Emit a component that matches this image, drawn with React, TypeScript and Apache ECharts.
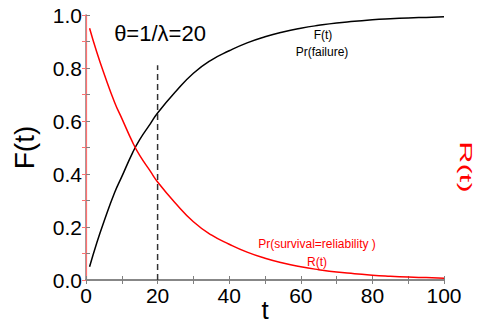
import React, { useEffect, useRef } from "react";
import * as echarts from "echarts";

const tValues = [1, 3, 5, 8, 10, 13, 15, 18, 20, 25, 30, 35, 40, 45, 50, 55, 60, 65, 70, 75, 80, 85, 90, 95, 100];
const failureValues = [0.05, 0.14, 0.22, 0.33, 0.39, 0.48, 0.53, 0.59, 0.63, 0.71, 0.78, 0.83, 0.865, 0.895, 0.918, 0.936, 0.95, 0.961, 0.97, 0.976, 0.982, 0.986, 0.989, 0.991, 0.993];
const reliabilityValues = [0.95, 0.86, 0.78, 0.67, 0.61, 0.52, 0.47, 0.41, 0.37, 0.29, 0.22, 0.17, 0.135, 0.105, 0.082, 0.064, 0.05, 0.039, 0.03, 0.024, 0.018, 0.014, 0.011, 0.009, 0.007];
const markerT = [20, 20];
const markerY = [0, 0.81];
const xTicks = { min: 0, max: 100, step: 20 };
const yTicks = { min: 0, max: 1, step: 0.2 };

const FONT = "'Liberation Sans', Arial, sans-serif";

export default function App() {
  const ref = useRef<HTMLDivElement>(null);
  useEffect(() => {
    if (!ref.current) return;
    const chart = echarts.init(ref.current, undefined, { renderer: "svg" });
    const gray = "#808080";
    const red = "#ff0000";
    const lightRed = "#ff7070";
    const xBase = {
      type: "value",
      min: xTicks.min,
      max: xTicks.max,
      interval: xTicks.step,
      splitLine: { show: false },
      axisLine: { show: true, lineStyle: { color: gray, width: 1.5 } },
      axisTick: { show: true, inside: true, length: 4, lineStyle: { color: gray, width: 1 } },
      minorTick: { show: true, splitNumber: 2, length: 4, lineStyle: { color: gray, width: 1 } },
      minorSplitLine: { show: false },
    };
    const option: any = {
      animation: false,
      grid: { left: 86, right: 41, top: 15, bottom: 44, containLabel: false, outerBoundsMode: "none" },
      xAxis: [
        {
          ...xBase,
          position: "bottom",
          name: "t",
          nameLocation: "middle",
          nameGap: 20,
          nameMoveOverlap: false,
          nameTextStyle: { fontSize: 26, color: "#000", fontFamily: FONT, lineHeight: 20 },
          axisLabel: { show: true, fontSize: 21, color: "#000", fontFamily: FONT, margin: 5 },
        },
        {
          ...xBase,
          position: "top",
          axisLabel: { show: false },
        },
      ],
      yAxis: [
        {
          type: "value",
          position: "left",
          min: yTicks.min,
          max: yTicks.max,
          interval: yTicks.step,
          name: "F(t)",
          nameLocation: "middle",
          nameGap: 48,
          nameMoveOverlap: false,
          nameTextStyle: { fontSize: 28, color: "#000", fontFamily: FONT },
          splitLine: { show: false },
          axisLine: { show: true, lineStyle: { color: gray, width: 1.5 } },
          axisTick: { show: true, inside: true, length: 4, lineStyle: { color: gray, width: 1 } },
          minorTick: { show: true, splitNumber: 2, length: 4, lineStyle: { color: gray, width: 1 } },
          axisLabel: {
            fontSize: 21,
            color: "#000",
            fontFamily: FONT,
            margin: 4,
            formatter: (v: number) => v.toFixed(1),
          },
        },
        {
          type: "value",
          position: "right",
          min: yTicks.min,
          max: yTicks.max,
          interval: yTicks.step,
          splitLine: { show: false },
          axisLine: { show: true, lineStyle: { color: lightRed, width: 1.2 } },
          axisTick: { show: true, inside: true, length: 4, lineStyle: { color: lightRed, width: 1 } },
          minorTick: { show: true, splitNumber: 2, length: 4, lineStyle: { color: lightRed, width: 1 } },
          axisLabel: { show: false },
        },
      ],
      graphic: [
        {
          type: "text",
          x: 160,
          y: 33,
          style: {
            text: "θ=1/λ=20",
            font: `22px ${FONT}`,
            fill: "#000",
            align: "center",
            verticalAlign: "middle",
          },
        },
        {
          type: "text",
          x: 323,
          y: 35,
          style: { text: "F(t)", font: `12px ${FONT}`, fill: "#000", align: "center", verticalAlign: "middle" },
        },
        {
          type: "text",
          x: 322,
          y: 52,
          style: { text: "Pr(failure)", font: `12px ${FONT}`, fill: "#000", align: "center", verticalAlign: "middle" },
        },
        {
          type: "text",
          x: 317,
          y: 244,
          style: {
            text: "Pr(survival=reliability )",
            font: `12px ${FONT}`,
            fill: red,
            align: "center",
            verticalAlign: "middle",
          },
        },
        {
          type: "text",
          x: 317,
          y: 262,
          style: { text: "R(t)", font: `12px ${FONT}`, fill: red, align: "center", verticalAlign: "middle" },
        },
        {
          type: "text",
          x: 466,
          y: 167,
          rotation: -Math.PI / 2,
          scaleX: 1.1,
          scaleY: 0.6,
          style: { text: "R(t)", font: `28px ${FONT}`, fill: red, align: "center", verticalAlign: "middle" },
        },
      ],
      series: [
        {
          type: "line",
          xAxisIndex: 0,
          yAxisIndex: 0,
          data: tValues.map((t, i) => [t, failureValues[i]]),
          smooth: true,
          showSymbol: false,
          lineStyle: { color: "#000", width: 1.5 },
          itemStyle: { color: "#000" },
        },
        {
          type: "line",
          xAxisIndex: 0,
          yAxisIndex: 1,
          data: tValues.map((t, i) => [t, reliabilityValues[i]]),
          smooth: true,
          showSymbol: false,
          lineStyle: { color: red, width: 1.5 },
          itemStyle: { color: red },
        },
        {
          type: "line",
          xAxisIndex: 0,
          yAxisIndex: 0,
          data: markerT.map((t, i) => [t, markerY[i]]),
          showSymbol: false,
          lineStyle: { color: "#333", width: 1.5, type: [6, 4] },
          itemStyle: { color: "#333" },
        },
      ],
    };
    chart.setOption(option);
    return () => chart.dispose();
  }, []);
  return (
    <div
      ref={ref}
      style={{ position: "fixed", left: 0, top: 0, width: 485, height: 324, background: "#fff" }}
    />
  );
}
